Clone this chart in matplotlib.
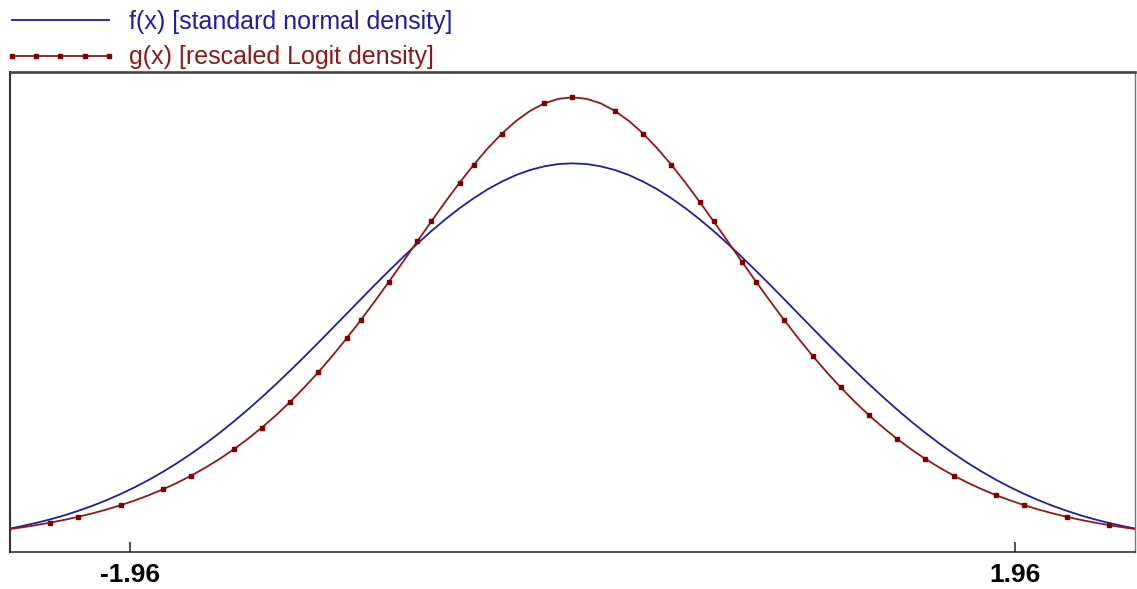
import numpy as np
import matplotlib
matplotlib.use("Agg")
import matplotlib.pyplot as plt

# x grid, 0 .. 2.5 in steps of 0.0625 (curves are symmetric about 0)
x_half = [0.0, 0.0625, 0.125, 0.1875, 0.25, 0.3125, 0.375, 0.4375, 0.5,
          0.5625, 0.625, 0.6875, 0.75, 0.8125, 0.875, 0.9375, 1.0, 1.0625,
          1.125, 1.1875, 1.25, 1.3125, 1.375, 1.4375, 1.5, 1.5625, 1.625,
          1.6875, 1.75, 1.8125, 1.875, 1.9375, 2.0, 2.0625, 2.125, 2.1875,
          2.25, 2.3125, 2.375, 2.4375, 2.5]

# f(x): standard normal density
f_half = [0.3989, 0.3982, 0.3958, 0.3920, 0.3867, 0.3799, 0.3719, 0.3625,
          0.3521, 0.3406, 0.3282, 0.3150, 0.3011, 0.2868, 0.2721, 0.2571,
          0.2420, 0.2269, 0.2119, 0.1971, 0.1827, 0.1686, 0.1550, 0.1420,
          0.1295, 0.1177, 0.1065, 0.0961, 0.0863, 0.0772, 0.0688, 0.0611,
          0.0540, 0.0476, 0.0417, 0.0365, 0.0317, 0.0275, 0.0238, 0.0205,
          0.0175]

# g(x): rescaled Logit density
g_half = [0.4678, 0.4662, 0.4615, 0.4537, 0.4431, 0.4300, 0.4146, 0.3974,
          0.3787, 0.3589, 0.3383, 0.3174, 0.2963, 0.2755, 0.2551, 0.2353,
          0.2163, 0.1982, 0.1811, 0.1651, 0.1501, 0.1361, 0.1233, 0.1114,
          0.1005, 0.0905, 0.0815, 0.0732, 0.0657, 0.0589, 0.0528, 0.0473,
          0.0423, 0.0378, 0.0338, 0.0302, 0.0270, 0.0241, 0.0215, 0.0192,
          0.0171]

x_vals = [-v for v in x_half[:0:-1]] + x_half
f_vals = f_half[:0:-1] + f_half
g_vals = g_half[:0:-1] + g_half

tick_pos = [-1.96, 1.96]
tick_labels = ["-1.96", "1.96"]

blue = "#1f1f9c"
red = "#8c1a1a"

W, H = 1137, 589
fig = plt.figure(figsize=(W / 100, H / 100), dpi=100)
ax = fig.add_axes([10 / W, 37 / H, 1125 / W, 480 / H])

ax.plot(x_vals, f_vals, color=blue, lw=1.3,
        label="f(x) [standard normal density]")
ax.plot(x_vals, g_vals, color=red, lw=1.3, marker="s", markersize=3.5,
        markerfacecolor="#800000", markeredgecolor="#800000",
        markevery=0.032, label="g(x) [rescaled Logit density]")

ax.set_xlim(-2.49, 2.49)
ax.set_ylim(-0.0065, 0.4942)
ax.set_yticks([])
ax.set_xticks(tick_pos)
ax.set_xticklabels(tick_labels, fontsize=19, fontweight="bold",
                   family="Liberation Sans")
ax.tick_params(axis="x", direction="in", length=7.5, width=1.1,
               color="#222222", pad=8)

ax.spines["top"].set_color("#444444")
ax.spines["top"].set_linewidth(1.9)
ax.spines["left"].set_color("#333333")
ax.spines["left"].set_linewidth(1.5)
ax.spines["bottom"].set_color("#222222")
ax.spines["bottom"].set_linewidth(1.1)
ax.spines["right"].set_color("#777777")
ax.spines["right"].set_linewidth(1.0)

leg = fig.legend(loc="upper left", bbox_to_anchor=(4 / W, 1 - 10 / H),
                 frameon=False, handlelength=4.5,
                 handletextpad=0.5, labelspacing=0.45, borderpad=0.0,
                 borderaxespad=0.0, numpoints=5, labelcolor="linecolor",
                 prop={"family": "Liberation Sans", "size": 18})

fig.savefig("out.png", dpi=100)
